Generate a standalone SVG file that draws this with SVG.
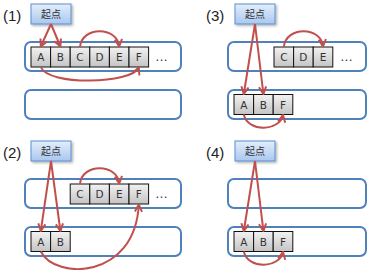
<svg xmlns="http://www.w3.org/2000/svg" width="370" height="270" viewBox="0 0 370 270">
<defs>
<linearGradient id="gCell" x1="0" y1="0" x2="0" y2="1">
<stop offset="0" stop-color="#f2f2f2"/><stop offset="1" stop-color="#c4c4c4"/>
</linearGradient>
<linearGradient id="gStart" x1="0" y1="0" x2="0" y2="1">
<stop offset="0" stop-color="#e3eefb"/><stop offset="1" stop-color="#a9c7ef"/>
</linearGradient>
<filter id="sh" x="-20%" y="-20%" width="150%" height="160%">
<feDropShadow dx="1.5" dy="1.5" stdDeviation="1" flood-color="#000" flood-opacity="0.3"/>
</filter>
<marker id="arr" viewBox="0 0 10 10" refX="9" refY="5" markerWidth="9" markerHeight="9" markerUnits="userSpaceOnUse" orient="auto">
<path d="M1,1 L9,5 L1,9" fill="none" stroke="#c0504d" stroke-width="2.2" stroke-linejoin="miter"/>
</marker>
<style>
.lbl{font-family:"Liberation Sans",Arial,sans-serif;font-size:15px;fill:#222}
.box{fill:#fff;stroke:#4f81bd;stroke-width:2}
.cell{fill:url(#gCell);stroke:#111;stroke-width:1}
.ct{font-family:"DejaVu Sans",Verdana,sans-serif;font-size:10.5px;fill:#333;text-anchor:middle}
.st{fill:url(#gStart);stroke:#5b8fcf;stroke-width:1;filter:url(#sh)}
.stt{font-family:"Noto Sans CJK JP","Noto Sans CJK SC",sans-serif;font-size:10px;fill:#333;text-anchor:middle}
.dots{font-family:"Liberation Sans",Arial,sans-serif;font-size:13px;fill:#333}
.con path{fill:none;stroke:#c0504d;stroke-width:2;marker-end:url(#arr)}
</style>
</defs>

<!-- labels -->
<text class="lbl" x="3" y="21">(1)</text>
<text class="lbl" x="3" y="158">(2)</text>
<text class="lbl" x="206" y="21">(3)</text>
<text class="lbl" x="206" y="158">(4)</text>

<!-- containers -->
<g id="p1-top"><rect class="box" x="25" y="42" width="156" height="29" rx="6"/></g>
<g id="p1-bot"><rect class="box" x="25" y="90" width="156" height="29" rx="6"/></g>
<g id="p2-top"><rect class="box" x="25" y="179" width="156" height="29" rx="6"/></g>
<g id="p2-bot"><rect class="box" x="25" y="227" width="156" height="29" rx="6"/></g>
<g id="p3-top"><rect class="box" x="228" y="42" width="138" height="29" rx="6"/></g>
<g id="p3-bot"><rect class="box" x="228" y="90" width="138" height="29" rx="6"/></g>
<g id="p4-top"><rect class="box" x="228" y="179" width="138" height="29" rx="6"/></g>
<g id="p4-bot"><rect class="box" x="228" y="227" width="138" height="29" rx="6"/></g>

<!-- start nodes -->
<g id="p1-start"><rect class="st" x="31" y="4" width="40" height="20"/><text class="stt" x="51" y="18">起点</text></g>
<g id="p2-start"><rect class="st" x="31" y="141" width="40" height="20"/><text class="stt" x="51" y="155">起点</text></g>
<g id="p3-start"><rect class="st" x="235" y="4" width="40" height="20"/><text class="stt" x="255" y="18">起点</text></g>
<g id="p4-start"><rect class="st" x="235" y="141" width="40" height="20"/><text class="stt" x="255" y="155">起点</text></g>

<!-- panel 1 cells -->
<g id="p1-A"><rect class="cell" x="31" y="47" width="19.6" height="20"/><text class="ct" x="40.8" y="61">A</text></g>
<g id="p1-B"><rect class="cell" x="50.6" y="47" width="19.6" height="20"/><text class="ct" x="60.4" y="61">B</text></g>
<g id="p1-C"><rect class="cell" x="70.2" y="47" width="19.6" height="20"/><text class="ct" x="80" y="61">C</text></g>
<g id="p1-D"><rect class="cell" x="89.8" y="47" width="19.6" height="20"/><text class="ct" x="99.6" y="61">D</text></g>
<g id="p1-E"><rect class="cell" x="109.4" y="47" width="19.6" height="20"/><text class="ct" x="119.2" y="61">E</text></g>
<g id="p1-F"><rect class="cell" x="129" y="47" width="19.6" height="20"/><text class="ct" x="138.8" y="61">F</text></g>
<text class="dots" x="155" y="61">…</text>

<!-- panel 2 cells -->
<g id="p2-C"><rect class="cell" x="70.2" y="184" width="19.6" height="20"/><text class="ct" x="80" y="198">C</text></g>
<g id="p2-D"><rect class="cell" x="89.8" y="184" width="19.6" height="20"/><text class="ct" x="99.6" y="198">D</text></g>
<g id="p2-E"><rect class="cell" x="109.4" y="184" width="19.6" height="20"/><text class="ct" x="119.2" y="198">E</text></g>
<g id="p2-F"><rect class="cell" x="129" y="184" width="19.6" height="20"/><text class="ct" x="138.8" y="198">F</text></g>
<text class="dots" x="155" y="198">…</text>
<g id="p2-A"><rect class="cell" x="31" y="231.5" width="19.6" height="20"/><text class="ct" x="40.8" y="245.5">A</text></g>
<g id="p2-B"><rect class="cell" x="50.6" y="231.5" width="19.6" height="20"/><text class="ct" x="60.4" y="245.5">B</text></g>

<!-- panel 3 cells -->
<g id="p3-C"><rect class="cell" x="274" y="47" width="19.6" height="20"/><text class="ct" x="283.8" y="61">C</text></g>
<g id="p3-D"><rect class="cell" x="293.6" y="47" width="19.6" height="20"/><text class="ct" x="303.4" y="61">D</text></g>
<g id="p3-E"><rect class="cell" x="313.2" y="47" width="19.6" height="20"/><text class="ct" x="323" y="61">E</text></g>
<text class="dots" x="340" y="61">…</text>
<g id="p3-A"><rect class="cell" x="234" y="94.5" width="19.6" height="20"/><text class="ct" x="243.8" y="108.5">A</text></g>
<g id="p3-B"><rect class="cell" x="253.6" y="94.5" width="19.6" height="20"/><text class="ct" x="263.4" y="108.5">B</text></g>
<g id="p3-F"><rect class="cell" x="273.2" y="94.5" width="19.6" height="20"/><text class="ct" x="283" y="108.5">F</text></g>

<!-- panel 4 cells -->
<g id="p4-A"><rect class="cell" x="234" y="231.5" width="19.6" height="20"/><text class="ct" x="243.8" y="245.5">A</text></g>
<g id="p4-B"><rect class="cell" x="253.6" y="231.5" width="19.6" height="20"/><text class="ct" x="263.4" y="245.5">B</text></g>
<g id="p4-F"><rect class="cell" x="273.2" y="231.5" width="19.6" height="20"/><text class="ct" x="283" y="245.5">F</text></g>

<!-- connectors -->
<g id="connectors" class="con">
<path d="M51,24 L40.8,46.5"/>
<path d="M51,24 L60.4,46.5"/>
<path d="M80,47 C82,26 117,26 119.2,46.5"/>
<path d="M40.8,67 C48,86 132,84 138.8,67.5"/>

<path d="M51,161 L40.8,231"/>
<path d="M51,161 L60.4,231"/>
<path d="M80,184 C82,163 117,163 119.2,183.5"/>
<path d="M40.8,251.5 C55,280 135,280 138.8,204.5"/>

<path d="M255,24 L243.8,94"/>
<path d="M255,24 L263.4,94"/>
<path d="M283.8,47 C286,26 321,26 323,46.5"/>
<path d="M243.8,114.5 C248,133 280,131 283,115"/>

<path d="M255,161 L243.8,231"/>
<path d="M255,161 L263.4,231"/>
<path d="M243.8,251.5 C248,270 280,268 283,252"/>
</g>
</svg>
